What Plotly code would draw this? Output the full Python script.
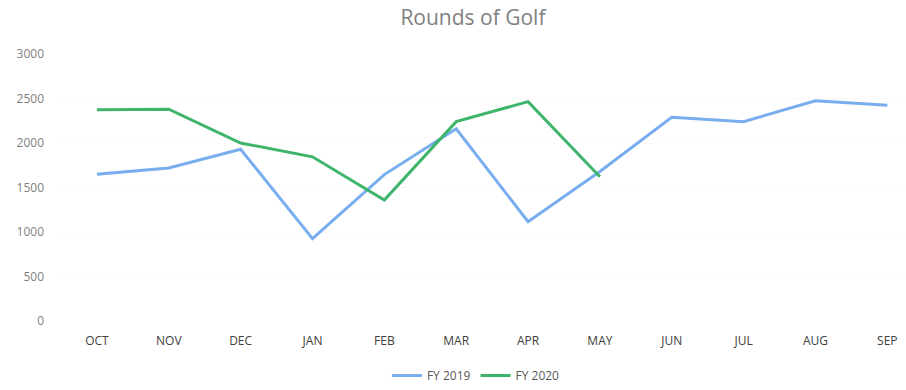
import plotly.graph_objects as go

months = ["OCT", "NOV", "DEC", "JAN", "FEB", "MAR", "APR", "MAY", "JUN", "JUL", "AUG", "SEP"]
fy2019 = [1650, 1720, 1930, 925, 1645, 2160, 1115, 1680, 2290, 2240, 2475, 2425]
fy2020 = [2375, 2380, 2000, 1845, 1360, 2240, 2465, 1620]
y_ticks = [0, 500, 1000, 1500, 2000, 2500, 3000]

fig = go.Figure()
fig.add_trace(go.Scatter(x=months, y=fy2019, mode="lines", name="FY 2019",
                         line=dict(color="#78aef0", width=3)))
fig.add_trace(go.Scatter(x=months[:len(fy2020)], y=fy2020, mode="lines", name="FY 2020",
                         line=dict(color="#3fb56c", width=3)))

fig.update_layout(
    width=906, height=390,
    margin=dict(l=61, r=0, t=54, b=68),
    paper_bgcolor="white", plot_bgcolor="white",
    font=dict(family="Open Sans, sans-serif", color="#595959", size=12),
    title=dict(text="Rounds of Golf", x=0.522, xanchor="center", y=0.955, yanchor="middle",
               font=dict(family="Open Sans, sans-serif", size=21, color="#7f7f7f")),
    legend=dict(orientation="h", x=0.491, xanchor="center", y=-0.205, yanchor="middle",
                font=dict(size=12, color="#595959"), itemwidth=30, tracegroupgap=0),
    xaxis=dict(type="category", categoryorder="array", categoryarray=months,
               range=[-0.5, 11.26], showgrid=False, showline=False, zeroline=False,
               ticks="", ticklabelstandoff=11, tickfont=dict(size=12, color="#404040")),
    yaxis=dict(range=[0, 3000], tickvals=y_ticks, showgrid=True, gridcolor="#fafafa",
               zeroline=False, showline=False, ticks="", ticklabelstandoff=16,
               tickfont=dict(size=12, color="#7f7f7f")),
)

fig.write_html("out.html")
